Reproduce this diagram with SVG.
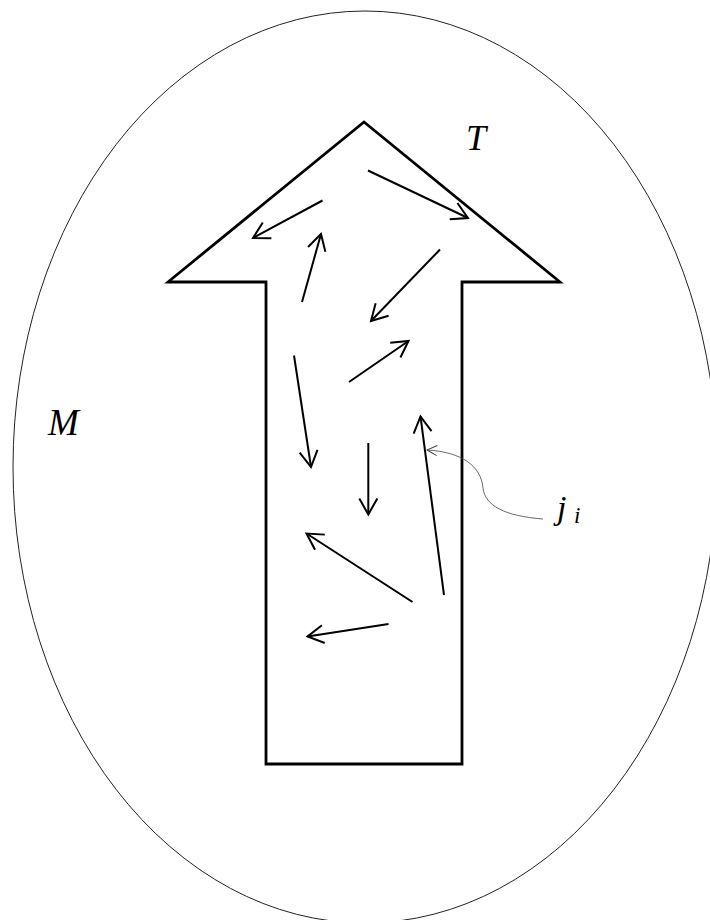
<svg xmlns="http://www.w3.org/2000/svg" width="710" height="920" viewBox="0 0 710 920">
<style>
.lbl{font-family:"Liberation Serif","Times New Roman",serif;font-style:italic;fill:#000}
.v{stroke:#000;stroke-width:2;fill:none}
</style>
<defs>
<marker id="ah" markerUnits="userSpaceOnUse" markerWidth="30" markerHeight="30" viewBox="-20 -15 30 30" refX="0" refY="0" orient="auto">
<path d="M-16,-9 L0,0 L-16,9" fill="none" stroke="#000" stroke-width="2"/>
</marker>
<marker id="ahs" markerUnits="userSpaceOnUse" markerWidth="20" markerHeight="20" viewBox="-12 -8 16 16" refX="0" refY="0" orient="auto">
<path d="M-8,-4 L0,0 L-8,4" fill="none" stroke="#444" stroke-width="0.8"/>
</marker>
</defs>
<g id="region-M">
<ellipse cx="365" cy="467" rx="352" ry="456" fill="none" stroke="#222" stroke-width="1"/>
<text class="lbl" x="48" y="435" font-size="37">M</text>
</g>
<g id="arrow-T">
<polygon points="364,122 560,282 462,282 462,764 266,764 266,282 168,282" fill="none" stroke="#000" stroke-width="2.8" stroke-linejoin="miter"/>
<text class="lbl" x="466" y="150" font-size="36">T</text>
</g>
<g id="label-j">
<text class="lbl" x="557" y="519" font-size="34">j</text>
<text class="lbl" x="574" y="523" font-size="23">i</text>
</g>
<g id="connectors">
<line class="v" x1="368" y1="170.5" x2="468" y2="218" marker-end="url(#ah)"/>
<line class="v" x1="322.5" y1="200.5" x2="253" y2="238" marker-end="url(#ah)"/>
<line class="v" x1="302" y1="302" x2="321" y2="234" marker-end="url(#ah)"/>
<line class="v" x1="440" y1="249.5" x2="371" y2="321" marker-end="url(#ah)"/>
<line class="v" x1="349" y1="382" x2="408.5" y2="341" marker-end="url(#ah)"/>
<line class="v" x1="294" y1="355.5" x2="311" y2="467" marker-end="url(#ah)"/>
<line class="v" x1="368.3" y1="443" x2="368.3" y2="514.5" marker-end="url(#ah)"/>
<line class="v" x1="444" y1="595" x2="420.5" y2="416.5" marker-end="url(#ah)"/>
<line class="v" x1="412.5" y1="602" x2="306.5" y2="533.5" marker-end="url(#ah)"/>
<line class="v" x1="388.5" y1="624" x2="307.5" y2="636.5" marker-end="url(#ah)"/>
<path d="M543,519 C505,516 485,506 483,488 C481,466 462,452 427,450" fill="none" stroke="#444" stroke-width="0.8" marker-end="url(#ahs)"/>
</g>
</svg>
